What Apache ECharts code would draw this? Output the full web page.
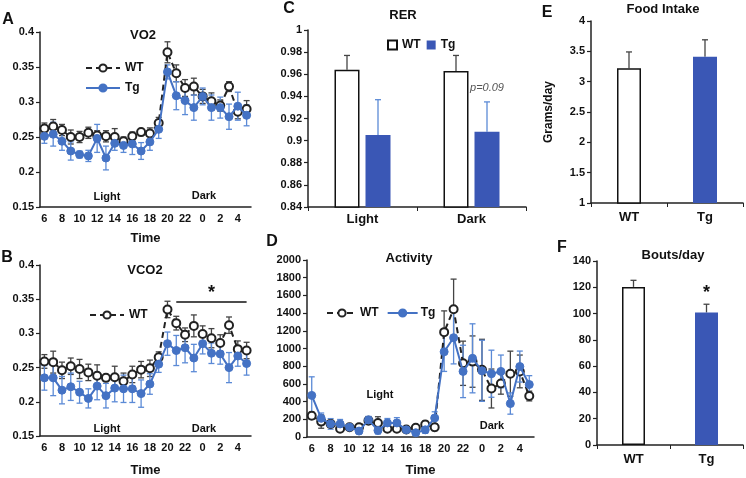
<!DOCTYPE html>
<html>
<head>
<meta charset="utf-8">
<script src="https://cdn.jsdelivr.net/npm/echarts@6/dist/echarts.min.js"></script>
<style>html,body{margin:0;padding:0;background:#fff}#c{width:746px;height:478px}</style>
</head>
<body>
<div id="c"></div>
<script>
// ---------- DATA ----------
const hours = ['6','7','8','9','10','11','12','13','14','15','16','17','18','19','20','21','22','23','0','1','2','3','4','5'];

const vo2WT    = [0.262,0.265,0.260,0.250,0.250,0.256,0.252,0.251,0.250,0.244,0.251,0.257,0.255,0.270,0.371,0.341,0.320,0.322,0.308,0.301,0.295,0.322,0.286,0.290];
const vo2WTErr = [0.008,0.010,0.008,0.010,0.008,0.008,0.007,0.008,0.012,0.006,0.006,0.005,0.008,0.008,0.015,0.012,0.012,0.012,0.010,0.012,0.008,0.007,0.010,0.012];
const vo2Tg    = [0.251,0.254,0.244,0.230,0.225,0.223,0.248,0.220,0.241,0.238,0.240,0.230,0.243,0.261,0.343,0.309,0.302,0.292,0.308,0.292,0.292,0.279,0.294,0.281];
const vo2TgErr = [0.010,0.017,0.013,0.013,0.005,0.008,0.020,0.017,0.010,0.010,0.015,0.012,0.012,0.013,0.010,0.020,0.020,0.018,0.012,0.018,0.015,0.018,0.020,0.015];

const vco2WT    = [0.259,0.258,0.246,0.252,0.248,0.243,0.238,0.235,0.236,0.230,0.240,0.247,0.249,0.265,0.335,0.315,0.298,0.311,0.299,0.293,0.286,0.312,0.277,0.275];
const vco2WTErr = [0.010,0.016,0.012,0.012,0.014,0.012,0.016,0.005,0.016,0.012,0.012,0.012,0.012,0.008,0.012,0.010,0.010,0.016,0.012,0.014,0.012,0.012,0.012,0.012];
const vco2Tg    = [0.235,0.235,0.217,0.222,0.214,0.205,0.223,0.209,0.220,0.219,0.219,0.212,0.226,0.255,0.285,0.275,0.279,0.264,0.285,0.271,0.270,0.250,0.267,0.256];
const vco2TgErr = [0.018,0.026,0.020,0.020,0.016,0.014,0.020,0.018,0.020,0.020,0.020,0.020,0.015,0.012,0.017,0.022,0.022,0.020,0.015,0.015,0.015,0.022,0.015,0.017];

const actWT    = [241,174,148,93,111,111,185,159,93,93,85,104,141,111,1185,1444,833,852,759,548,604,715,741,463];
const actWTErr = [40,75,40,30,30,30,40,70,30,30,30,30,40,40,240,340,250,290,345,220,120,255,185,55];
const actTg    = [470,211,148,148,111,67,193,74,159,159,81,48,81,215,963,1122,741,889,748,715,741,378,796,593];
const actTgErr = [210,60,60,50,30,30,40,40,50,60,30,30,40,70,222,296,296,390,345,266,185,120,175,100];

const rerCats  = ['Light','Dark'];
const rerWT    = [0.964,0.963];
const rerWTErr = [0.013,0.014];
const rerTg    = [0.905,0.908];
const rerTgErr = [0.032,0.027];

const grpCats  = ['WT','Tg'];
const food     = [3.22,3.41];
const foodErr  = [0.27,0.28];
const bouts    = [120.3,100.8];
const boutsErr = [5,6.3];

// ---------- STYLE ----------
const FONT = 'Liberation Sans, Arial, sans-serif';
const BLACK = '#222';
const BLUE_LINE = '#4472C4';
const BLUE_ERR = '#5B8AD6';
const BLUE_BAR = '#3A57B5';

const chart = echarts.init(document.getElementById('c'), null, {renderer:'canvas'});

function valAxis(grid, min, max, interval, extra) {
  return Object.assign({
    type:'value', gridIndex:grid, min:min, max:max, interval:interval,
    splitLine:{show:false},
    axisLine:{show:true, lineStyle:{color:BLACK, width:1.5}},
    axisTick:{show:true, length:4, lineStyle:{color:BLACK, width:1.2}},
    axisLabel:{color:'#111', fontFamily:FONT, fontWeight:'bold', fontSize:11, margin:6, formatter:v=>String(v)}
  }, extra||{});
}
function catAxis(grid, data, extra) {
  return Object.assign({
    type:'category', gridIndex:grid, data:data, boundaryGap:true,
    axisLine:{show:true, lineStyle:{color:BLACK, width:1.5}},
    axisTick:{show:false},
    axisLabel:{color:'#111', fontFamily:FONT, fontWeight:'bold', fontSize:11, margin:6},
    nameTextStyle:{color:'#111', fontFamily:FONT, fontWeight:'bold', fontSize:13}
  }, extra||{});
}

function errSeries(name, xi, vals, errs, color, opts) {
  opts = opts || {};
  const cap = opts.cap || 6;
  const offset = opts.offset || 0;
  const upOnly = !!opts.upOnly;
  return {
    type:'custom', name:name, xAxisIndex:xi, yAxisIndex:xi, z: opts.z || 1,
    silent:true,
    data: vals.map((v,i)=>[i, v, errs[i]]),
    renderItem: function(params, api) {
      const i = api.value(0), v = api.value(1), e = api.value(2);
      const t = api.coord([i, v+e]);
      const b = api.coord([i, upOnly ? v : v-e]);
      const x = t[0] + offset;
      const st = {stroke:color, lineWidth:1.3};
      const ch = [
        {type:'line', shape:{x1:x,y1:t[1],x2:x,y2:b[1]}, style:st},
        {type:'line', shape:{x1:x-cap/2,y1:t[1],x2:x+cap/2,y2:t[1]}, style:st}
      ];
      if (!upOnly) ch.push({type:'line', shape:{x1:x-cap/2,y1:b[1],x2:x+cap/2,y2:b[1]}, style:st});
      return {type:'group', children:ch};
    }
  };
}

function wtLine(name, xi, data, extra) {
  return Object.assign({
    type:'line', name:name, xAxisIndex:xi, yAxisIndex:xi, data:data, z:3,
    symbol:'circle', symbolSize:8, showAllSymbol:true,
    lineStyle:{color:BLACK, width:2, type:[6,4]},
    itemStyle:{color:'#fff', borderColor:BLACK, borderWidth:2}
  }, extra||{});
}
function tgLine(name, xi, data, extra) {
  return Object.assign({
    type:'line', name:name, xAxisIndex:xi, yAxisIndex:xi, data:data, z:4,
    symbol:'circle', symbolSize:8, showAllSymbol:true,
    lineStyle:{color:BLUE_LINE, width:2},
    itemStyle:{color:BLUE_LINE, borderColor:BLUE_LINE, borderWidth:1}
  }, extra||{});
}

function txt(text, x, y, size, extra) {
  return {type:'text', x:x, y:y, style:Object.assign({
    text:text, fill:'#111', font:'bold '+size+'px '+FONT, textAlign:'center', textVerticalAlign:'middle'
  }, extra||{})};
}

const legendText = {color:'#111', fontFamily:FONT, fontWeight:'bold', fontSize:12};
const RER_BW = 25, RER_GAP = 6;
const hourLabel = {interval:1, color:'#111', fontFamily:FONT, fontWeight:'bold', fontSize:11, margin:6};

const option = {
  animation:false,
  backgroundColor:'#fff',
  grid:[
    {left:40,  top:32,  width:211, height:175},
    {left:40,  top:265, width:211, height:176},
    {left:308, top:30,  width:218, height:177},
    {left:307, top:260, width:227, height:180},
    {left:591, top:21,  width:152, height:182},
    {left:597, top:261, width:146, height:184}
  ],
  xAxis:[
    catAxis(0, hours, {axisLabel:hourLabel, name:'Time', nameLocation:'middle', nameGap:25}),
    catAxis(1, hours, {axisLabel:hourLabel, name:'Time', nameLocation:'middle', nameGap:28}),
    catAxis(2, rerCats, {axisTick:{show:true, length:4, lineStyle:{color:BLACK}}, axisLabel:{color:'#111', fontFamily:FONT, fontWeight:'bold', fontSize:13, margin:6}}),
    catAxis(3, hours, {axisLabel:hourLabel, name:'Time', nameLocation:'middle', nameGap:27}),
    catAxis(4, grpCats, {axisTick:{show:true, length:4, lineStyle:{color:BLACK}}, axisLabel:{color:'#111', fontFamily:FONT, fontWeight:'bold', fontSize:13, margin:8}}),
    catAxis(5, grpCats, {axisTick:{show:true, length:4, lineStyle:{color:BLACK}}, axisLabel:{color:'#111', fontFamily:FONT, fontWeight:'bold', fontSize:13, margin:8}})
  ],
  yAxis:[
    valAxis(0, 0.15, 0.4, 0.05),
    valAxis(1, 0.15, 0.4, 0.05),
    valAxis(2, 0.84, 1, 0.02),
    valAxis(3, 0, 2000, 200),
    valAxis(4, 1, 4, 0.5, {name:'Grams/day', nameLocation:'middle', nameGap:36, nameTextStyle:{color:'#111', fontFamily:FONT, fontWeight:'bold', fontSize:12}}),
    valAxis(5, 0, 140, 20)
  ],
  legend:[
    {left:80, top:57, orient:'vertical', itemGap:8, itemWidth:34, itemHeight:9, data:['WT','Tg'], textStyle:legendText, selectedMode:false},
    {left:84, top:304, orient:'vertical', itemWidth:34, itemHeight:9, data:['WT'], textStyle:legendText, selectedMode:false},
    {left:321, top:302, orient:'horizontal', itemGap:8, itemWidth:30, itemHeight:9, textStyle:Object.assign({}, legendText, {padding:[0,0,0,-2]}), data:['WT','Tg'], selectedMode:false},
    {left:382, top:34, orient:'horizontal', itemGap:6, itemWidth:9, itemHeight:9, data:['WT ','Tg '], icon:'rect', formatter:n=>n.trim(), textStyle:legendText, selectedMode:false}
  ],
  series:[
    // A
    errSeries('eA1', 0, vo2WT, vo2WTErr, '#444'),
    errSeries('eA2', 0, vo2Tg, vo2TgErr, BLUE_ERR, {z:2}),
    wtLine('WT', 0, vo2WT),
    tgLine('Tg', 0, vo2Tg),
    // B
    errSeries('eB1', 1, vco2WT, vco2WTErr, '#444'),
    errSeries('eB2', 1, vco2Tg, vco2TgErr, BLUE_ERR, {z:2}),
    wtLine('WT', 1, vco2WT, {
      markLine:{silent:true, symbol:'none', lineStyle:{color:'#111', width:1.5, type:'solid'},
        label:{show:true, position:'middle', formatter:'*', color:'#111', fontFamily:FONT, fontWeight:'bold', fontSize:18, distance:0},
        data:[[{coord:['21',0.346]},{coord:['5',0.346]}]]}
    }),
    tgLine('Tg', 1, vco2Tg),
    // D
    errSeries('eD1', 3, actWT, actWTErr, '#444'),
    errSeries('eD2', 3, actTg, actTgErr, BLUE_ERR, {z:2}),
    wtLine('WT', 3, actWT),
    tgLine('Tg', 3, actTg),
    // C
    {type:'bar', name:'WT ', xAxisIndex:2, yAxisIndex:2, data:rerWT, barWidth:RER_BW, barGap:(RER_GAP/RER_BW*100)+'%',
      itemStyle:{color:'#fff', borderColor:'#111', borderWidth:1.5}, z:2},
    {type:'bar', name:'Tg ', xAxisIndex:2, yAxisIndex:2, data:rerTg, barWidth:RER_BW,
      itemStyle:{color:BLUE_BAR, borderColor:BLUE_BAR, borderWidth:0}, z:2},
    errSeries('eC1', 2, rerWT, rerWTErr, '#444', {upOnly:true, offset:-(RER_BW+RER_GAP)/2, z:1}),
    errSeries('eC2', 2, rerTg, rerTgErr, BLUE_ERR, {upOnly:true, offset:(RER_BW+RER_GAP)/2, z:1}),
    // E
    {type:'bar', name:'food', xAxisIndex:4, yAxisIndex:4, barWidth:24, z:2,
      data:[{value:food[0], itemStyle:{color:'#fff', borderColor:'#111', borderWidth:1.5}},
            {value:food[1], itemStyle:{color:BLUE_BAR, borderWidth:0}}]},
    errSeries('eE', 4, food, foodErr, '#444', {upOnly:true, z:1}),
    // F
    {type:'bar', name:'bouts', xAxisIndex:5, yAxisIndex:5, barWidth:23, z:2,
      data:[{value:bouts[0], itemStyle:{color:'#fff', borderColor:'#111', borderWidth:1.5}},
            {value:bouts[1], itemStyle:{color:BLUE_BAR, borderWidth:0}}],
      markPoint:{silent:true, symbol:'circle', symbolSize:0,
        label:{show:true, position:'inside', formatter:'*', color:'#111', fontFamily:FONT, fontWeight:'bold', fontSize:18},
        data:[{coord:['Tg', 116]}]}},
    errSeries('eF', 5, bouts, boutsErr, '#444', {upOnly:true, z:1})
  ],
  graphic:[
    txt('A', 8, 20, 16),
    txt('VO2', 143, 35, 13),
    txt('Light', 107, 197, 11),
    txt('Dark', 204, 196, 11),
    txt('B', 7, 258, 16),
    txt('VCO2', 145, 270, 13),
    txt('Light', 107, 429, 11),
    txt('Dark', 204, 429, 11),
    txt('C', 289, 9, 16),
    txt('RER', 403, 15, 13),
    txt('p=0.09', 487, 88, 11, {font:'italic 11px '+FONT, fill:'#555'}),
    txt('D', 272, 242, 16),
    txt('Activity', 409, 258, 13),
    txt('Light', 380, 395, 11),
    txt('Dark', 492, 426, 11),
    txt('E', 547, 13, 16),
    txt('Food Intake', 663, 9, 13),
    txt('F', 562, 248, 16),
    txt('Bouts/day', 673, 255, 13)
  ]
};
chart.setOption(option);
</script>
</body>
</html>
